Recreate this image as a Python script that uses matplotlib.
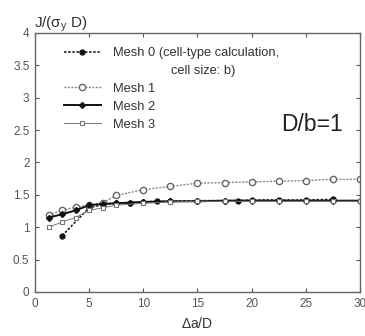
import matplotlib.pyplot as plt
from matplotlib.lines import Line2D
import numpy as np

plt.rcParams['font.family'] = ['Liberation Sans', 'DejaVu Sans']
plt.rcParams['mathtext.fontset'] = 'custom'
plt.rcParams['mathtext.rm'] = 'Liberation Sans'
plt.rcParams['mathtext.it'] = 'Liberation Sans'

# data
x0 = [2.5, 5, 6.25, 7.5, 8.75, 10, 11.25, 12.5, 15, 17.5, 18.75, 20, 22.5, 25, 27.5]
mesh0 = [0.87, 1.30, 1.35, 1.37, 1.38, 1.39, 1.40, 1.40, 1.41, 1.41, 1.41, 1.42, 1.42, 1.42, 1.43]

x1 = [1.25, 2.5, 3.75, 5, 6.25, 7.5, 10, 12.5, 15, 17.5, 20, 22.5, 25, 27.5, 30]
mesh1 = [1.19, 1.26, 1.31, 1.34, 1.38, 1.49, 1.58, 1.63, 1.68, 1.69, 1.70, 1.71, 1.72, 1.74, 1.74]

x2 = [1.25, 2.5, 3.75, 5, 6.25, 7.5, 8.75, 10, 12.5, 15, 17.5, 20, 22.5, 25, 27.5, 30]
mesh2 = [1.15, 1.20, 1.26, 1.34, 1.36, 1.37, 1.38, 1.39, 1.40, 1.40, 1.41, 1.41, 1.41, 1.41, 1.41, 1.41]

x3 = [1.25, 2.5, 3.75, 5, 6.25, 7.5, 10, 12.5, 15, 17.5, 20, 22.5, 25, 27.5, 30]
mesh3 = [1.00, 1.08, 1.15, 1.26, 1.30, 1.34, 1.37, 1.39, 1.40, 1.40, 1.40, 1.40, 1.40, 1.40, 1.40]

fig = plt.figure(figsize=(3.65, 3.36), dpi=100)
ax = fig.add_axes([0.096, 0.131, 0.890, 0.771])

l0, = ax.plot(x0, mesh0, linestyle=(0, (1.5, 1)), color='#222222', lw=1.2,
              marker='o', ms=3.5, mfc='#111111', mec='#111111')
l1, = ax.plot(x1, mesh1, linestyle=(0, (1.5, 1)), color='#888888', lw=1.0,
              marker='o', ms=4.5, mfc='white', mec='#666666', mew=1.0)
l2, = ax.plot(x2, mesh2, linestyle='-', color='#111111', lw=1.4,
              marker='D', ms=3, mfc='#111111', mec='#111111')
l3, = ax.plot(x3, mesh3, linestyle='-', color='#777777', lw=0.7,
              marker='s', ms=3, mfc='white', mec='#777777', mew=0.8)

ax.set_xlim(0, 30)
ax.set_ylim(0, 4)
ax.set_xticks(np.arange(0, 31, 5))
ax.set_yticks(np.arange(0, 4.01, 0.5))
ax.set_yticklabels(['0', '0.5', '1', '1.5', '2', '2.5', '3', '3.5', '4'])
ax.tick_params(direction='in', top=True, right=True, length=3, width=0.8,
               labelsize=8.5, labelcolor='#555555', color='#555555', pad=4)
for s in ax.spines.values():
    s.set_color('#666666')
    s.set_linewidth(1.0)

ax.set_xlabel(r'$\Delta$a/D', fontsize=10, color='#333333', labelpad=5)
fig.text(0.094, 0.898, r'J/($\sigma_y$ D)', fontsize=11, color='#333333', ha='left', va='bottom')
ax.text(0.947, 0.645, 'D/b=1', transform=ax.transAxes, fontsize=16.5, ha='right', va='center',
        color='#222222')

# second line of the Mesh 0 label is a blank legend row
blank = Line2D([], [], linestyle='none')
handles = [l0, blank, l1, l2, l3]
labels = ['Mesh 0 (cell-type calculation,', '                cell size: b)',
          'Mesh 1', 'Mesh 2', 'Mesh 3']
leg = ax.legend(handles, labels, loc='upper left', bbox_to_anchor=(0.052, 0.99),
                frameon=False, fontsize=9.3, handlelength=2.9, labelspacing=0.45,
                handletextpad=0.95)
for t in leg.get_texts():
    t.set_color('#333333')

fig.savefig('out.png', dpi=100)
